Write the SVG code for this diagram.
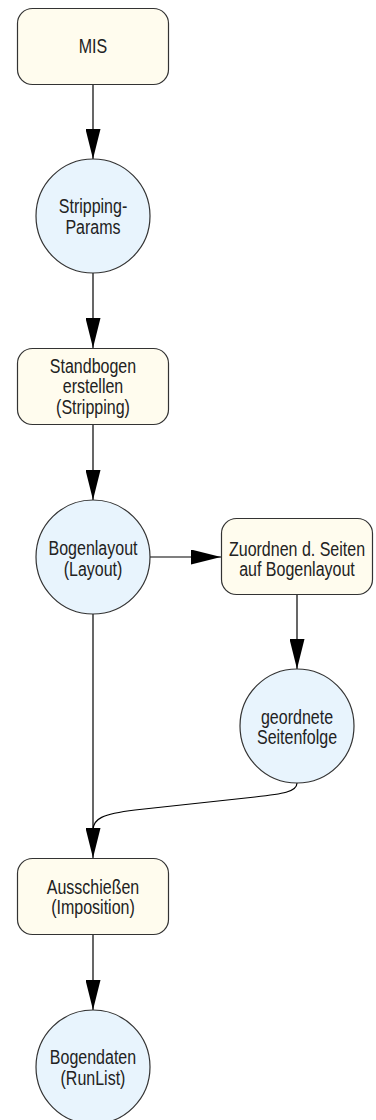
<svg xmlns="http://www.w3.org/2000/svg" width="376" height="1120" viewBox="0 0 376 1120">
  <style>
    .proc { fill: #fffcee; stroke: #333333; stroke-width: 1.2; }
    .data { fill: #e8f4fd; stroke: #333333; stroke-width: 1.2; }
    .lbl { font-family: "Liberation Sans", Arial, sans-serif; font-size: 20px; fill: #222222; text-anchor: middle; }
    .edge { fill: none; stroke: #000000; stroke-width: 1.2; }
  </style>
  <defs>
    <marker id="arrow" markerWidth="30" markerHeight="15" refX="30" refY="7.5" orient="auto" markerUnits="userSpaceOnUse">
      <path d="M0,0 L30,7.5 L0,15 Z" fill="#000000"/>
    </marker>
  </defs>
  <rect width="376" height="1120" fill="#ffffff"/>

  <g id="connectors">
    <path class="edge" d="M93,84 L93,159" marker-end="url(#arrow)"/>
    <path class="edge" d="M93,273 L93,348" marker-end="url(#arrow)"/>
    <path class="edge" d="M93,424 L93,500" marker-end="url(#arrow)"/>
    <path class="edge" d="M150,557 L221,557" marker-end="url(#arrow)"/>
    <path class="edge" d="M297,594 L297,669" marker-end="url(#arrow)"/>
    <path class="edge" d="M93,613 L93,858" marker-end="url(#arrow)"/>
    <path class="edge" d="M297,783 C297,792 282,794 255,797 L135,810 C102,814 93,819 93,830"/>
    <path class="edge" d="M93,934 L93,1010" marker-end="url(#arrow)"/>
  </g>

  <!-- labels are set narrow: scaled 0.8 horizontally -->
  <g id="mis">
    <rect class="proc" x="17.5" y="8.5" width="151" height="76" rx="15"/>
    <text class="lbl" transform="translate(93,52.5) scale(0.8,1)">MIS</text>
  </g>
  <g id="stripping-params">
    <circle class="data" cx="93" cy="216" r="57"/>
    <text class="lbl" transform="translate(93,213) scale(0.8,1)">Stripping-</text>
    <text class="lbl" transform="translate(93,233.5) scale(0.8,1)">Params</text>
  </g>
  <g id="standbogen">
    <rect class="proc" x="17.5" y="348.5" width="151" height="76" rx="15"/>
    <text class="lbl" transform="translate(93,372.5) scale(0.8,1)">Standbogen</text>
    <text class="lbl" transform="translate(93,393) scale(0.8,1)">erstellen</text>
    <text class="lbl" transform="translate(93,413.5) scale(0.8,1)">(Stripping)</text>
  </g>
  <g id="bogenlayout">
    <circle class="data" cx="93" cy="557" r="57"/>
    <text class="lbl" transform="translate(93,555) scale(0.8,1)">Bogenlayout</text>
    <text class="lbl" transform="translate(93,575.5) scale(0.8,1)">(Layout)</text>
  </g>
  <g id="zuordnen">
    <rect class="proc" x="221.5" y="518.5" width="151" height="76" rx="15"/>
    <text class="lbl" transform="translate(297,555.5) scale(0.8,1)">Zuordnen d. Seiten</text>
    <text class="lbl" transform="translate(297,576) scale(0.8,1)">auf Bogenlayout</text>
  </g>
  <g id="seitenfolge">
    <circle class="data" cx="297" cy="726" r="57"/>
    <text class="lbl" transform="translate(297,723.5) scale(0.8,1)">geordnete</text>
    <text class="lbl" transform="translate(297,744) scale(0.8,1)">Seitenfolge</text>
  </g>
  <g id="ausschiessen">
    <rect class="proc" x="17.5" y="858.5" width="151" height="76" rx="15"/>
    <text class="lbl" transform="translate(93,893.5) scale(0.8,1)">Ausschießen</text>
    <text class="lbl" transform="translate(93,914) scale(0.8,1)">(Imposition)</text>
  </g>
  <g id="bogendaten">
    <circle class="data" cx="93" cy="1067" r="57"/>
    <text class="lbl" transform="translate(93,1064) scale(0.8,1)">Bogendaten</text>
    <text class="lbl" transform="translate(93,1084.5) scale(0.8,1)">(RunList)</text>
  </g>
</svg>
